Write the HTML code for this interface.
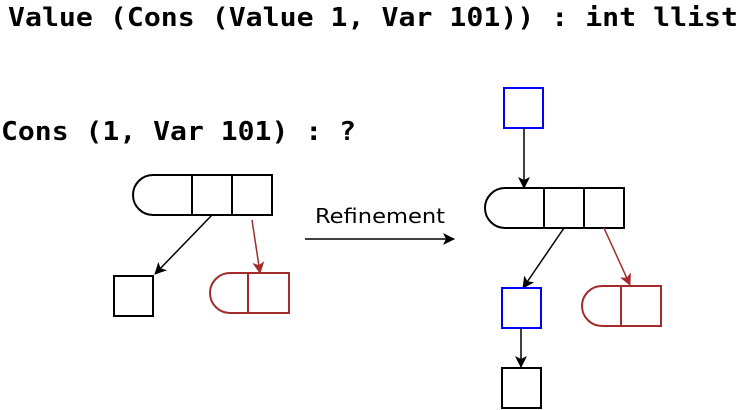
<!DOCTYPE html>
<html><head><meta charset="utf-8"><style>html,body{margin:0;padding:0;background:#fff;}svg{display:block}</style></head>
<body>
<svg width="740" height="410" viewBox="0 0 740 410" xmlns="http://www.w3.org/2000/svg">
<defs>
<marker id="ab" markerWidth="12" markerHeight="12" refX="11" refY="6" orient="auto" markerUnits="userSpaceOnUse"><path d="M0,0 L12,6 L0,12 L3,6 Z" fill="#000"/></marker>
<marker id="ar" markerWidth="12" markerHeight="12" refX="11" refY="6" orient="auto" markerUnits="userSpaceOnUse"><path d="M0,0 L12,6 L0,12 L3,6 Z" fill="#a52a2a"/></marker>
</defs>
<g font-family="'DejaVu Sans Mono','Liberation Mono',monospace" font-weight="bold" font-size="26" fill="#000">
<text x="8" y="26" textLength="730" lengthAdjust="spacingAndGlyphs">Value (Cons (Value 1, Var 101)) : int llist</text>
<text x="1" y="140" textLength="355" lengthAdjust="spacingAndGlyphs">Cons (1, Var 101) : ?</text>
</g>
<g fill="none" stroke-width="2">
<path d="M153,175 A20,20 0 0 0 153,215 L272,215 L272,175 Z M192,175 V215 M232,175 V215" stroke="#000"/>
<rect x="114" y="276" width="39" height="40" stroke="#000"/>
<line x1="212" y1="215" x2="155" y2="274" stroke="#000" stroke-width="1.5" marker-end="url(#ab)"/>
<line x1="252" y1="220" x2="260" y2="273" stroke="#a52a2a" stroke-width="1.5" marker-end="url(#ar)"/>
<path d="M230,273 A20,20 0 0 0 230,313 L289,313 L289,273 Z M248,273 V313" stroke="#a52a2a"/>
<line x1="305" y1="239" x2="454" y2="239" stroke="#000" stroke-width="1.5" marker-end="url(#ab)"/>
<rect x="504" y="88" width="39" height="40" stroke="#0000ff"/>
<line x1="524" y1="128" x2="524" y2="188" stroke="#000" stroke-width="1.5" marker-end="url(#ab)"/>
<path d="M505,188 A20,20 0 0 0 505,228 L624,228 L624,188 Z M544,188 V228 M584,188 V228" stroke="#000"/>
<line x1="564" y1="228" x2="523" y2="288" stroke="#000" stroke-width="1.5" marker-end="url(#ab)"/>
<line x1="604" y1="228" x2="630" y2="285" stroke="#a52a2a" stroke-width="1.5" marker-end="url(#ar)"/>
<rect x="502" y="288" width="39" height="40" stroke="#0000ff"/>
<line x1="521" y1="328" x2="521" y2="367" stroke="#000" stroke-width="1.5" marker-end="url(#ab)"/>
<rect x="502" y="368" width="39" height="40" stroke="#000"/>
<path d="M602,286 A20,20 0 0 0 602,326 L661,326 L661,286 Z M621,286 V326" stroke="#a52a2a"/>
</g>
<text x="315" y="223" textLength="130" lengthAdjust="spacingAndGlyphs" font-family="'DejaVu Sans','Liberation Sans',sans-serif" font-size="20" fill="#000">Refinement</text>
</svg>
</body></html>
